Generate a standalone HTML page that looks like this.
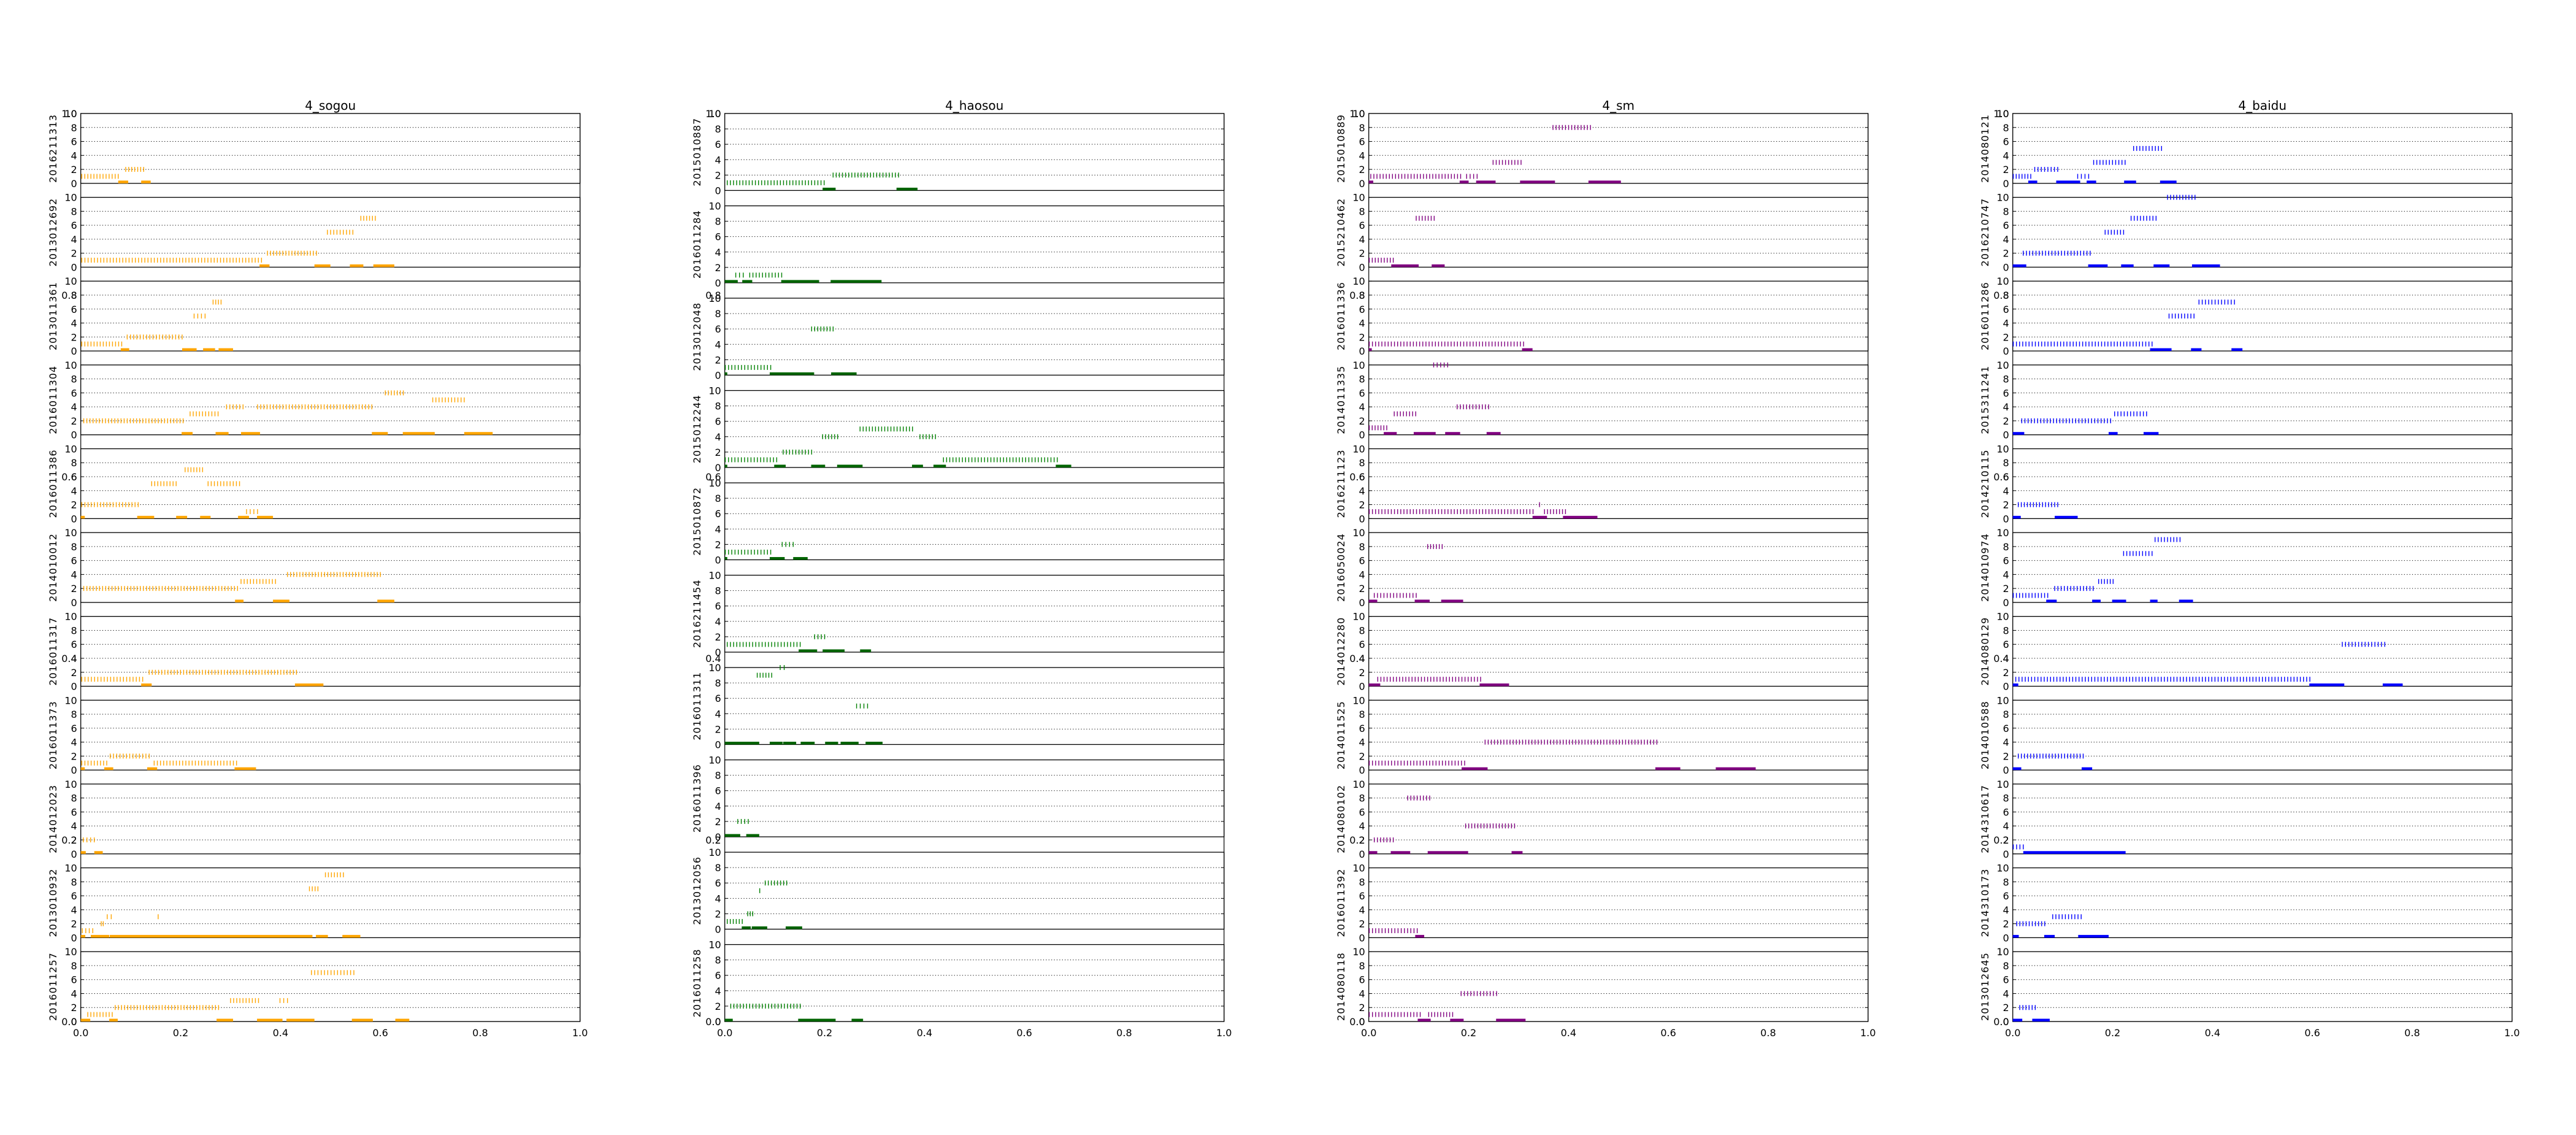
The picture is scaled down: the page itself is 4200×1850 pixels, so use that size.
<!DOCTYPE html>
<html><head><meta charset="utf-8">
<style>
html,body{margin:0;padding:0;background:#fff;}
svg{display:block;font-family:"DejaVu Sans","Liberation Sans",sans-serif;}
</style></head>
<body>
<svg id="chart" xmlns="http://www.w3.org/2000/svg" width="4200" height="1850" viewBox="0 0 4200 1850"></svg>
<script>
// ---------- data ----------
const columnTitles = ["4_sogou", "4_haosou", "4_sm", "4_baidu"];
const columnColors = ["#FFA500", "#008000", "#800080", "#0000FF"];
const columnBarColors = ["#FFA500", "#006400", "#800080", "#0000FF"];
const xTickLabels = ["0.0", "0.2", "0.4", "0.6", "0.8", "1.0"];
const xTickValues = [0, 0.2, 0.4, 0.6, 0.8, 1.0];
const subYTicks = [0, 2, 4, 6, 8, 10];
const bgYTicks = ["0.0", "0.2", "0.4", "0.6", "0.8", "1.0"];

const sogouLabels = ["2016211313","2013012692","2013011361","2016011304","2016011386","2014010012","2016011317","2016011373","2014012023","2013010932","2016011257"];
const sogouTicks = [
 [[1,.002,.075],[2,.09,.126]],
 [[1,.002,.362],[2,.374,.472],[5,.494,.545],[7,.561,.590]],
 [[1,.002,.082],[2,.093,.203],[5,.227,.249],[7,.265,.281]],
 [[2,.006,.205],[3,.219,.275],[4,.292,.325],[4,.354,.583],[6,.61,.646],[5,.705,.768]],
 [[2,.002,.115],[5,.142,.191],[7,.209,.244],[5,.255,.318],[1,.332,.354]],
 [[2,.006,.314],[3,.321,.39],[4,.414,.6]],
 [[1,.002,.124],[2,.137,.432]],
 [[1,.002,.052],[2,.059,.137],[1,.147,.312]],
 [[2,.005,.027]],
 [[1,.003,.024],[2,.041,.045],[3,.053,.061],[3,.155,.155],[7,.458,.475],[9,.49,.526]],
 [[1,.014,.063],[2,.069,.276],[3,.3,.356],[3,.399,.414],[7,.462,.547]]
];
const sogouBars = [
 [[.075,.095],[.121,.14]],
 [[.358,.378],[.468,.5],[.539,.566],[.586,.628]],
 [[.08,.097],[.203,.232],[.245,.269],[.276,.305]],
 [[.202,.224],[.27,.296],[.321,.359],[.583,.615],[.645,.709],[.768,.825]],
 [[0,.008],[.113,.147],[.191,.213],[.239,.26],[.315,.337],[.353,.385]],
 [[.309,.326],[.385,.418],[.594,.628]],
 [[.121,.142],[.429,.486]],
 [[0,.008],[.047,.065],[.133,.153],[.308,.351]],
 [[0,.01],[.027,.044]],
 [[0,.009],[.02,.057],[.058,.464],[.471,.495],[.524,.56]],
 [[0,.019],[.057,.074],[.272,.305],[.353,.404],[.412,.468],[.543,.585],[.63,.658]]
];

const haosouLabels = ["2015010887","2016011284","2013012048","2015012244","2015010872","2016211454","2016011311","2016011396","2013012056","2016011258"];
const haosouTicks = [
 [[1,.005,.199],[2,.217,.348]],
 [[1,.022,.037],[1,.05,.114]],
 [[1,.001,.092],[6,.174,.217]],
 [[1,.001,.104],[2,.117,.174],[4,.196,.226],[5,.271,.376],[4,.391,.422],[1,.438,.666]],
 [[1,.001,.092],[2,.115,.137]],
 [[1,.005,.151],[2,.18,.2]],
 [[9,.065,.094],[10,.111,.119],[5,.264,.286]],
 [[2,.026,.047]],
 [[1,.005,.035],[2,.046,.056],[5,.07,.07],[6,.081,.124]],
 [[2,.012,.151]]
];
const haosouBars = [
 [[.196,.222],[.344,.386]],
 [[0,.026],[.035,.055],[.113,.189],[.212,.314]],
 [[0,.005],[.09,.179],[.213,.264]],
 [[0,.005],[.099,.122],[.173,.201],[.225,.276],[.375,.397],[.418,.443],[.663,.694]],
 [[0,.005],[.09,.12],[.137,.166]],
 [[.148,.185],[.196,.24],[.271,.293]],
 [[0,.069],[.09,.116],[.117,.143],[.152,.18],[.201,.227],[.232,.268],[.282,.316]],
 [[0,.031],[.043,.069]],
 [[.034,.052],[.054,.085],[.122,.155]],
 [[0,.016],[.147,.222],[.254,.277]]
];

const smLabels = ["2015010889","2015210462","2016011336","2014011335","2016211123","2016050024","2014012280","2014011525","2014080102","2016011392","2014080118"];
const smTicks = [
 [[1,.004,.184],[1,.196,.217],[3,.249,.305],[8,.369,.444]],
 [[1,.001,.049],[7,.095,.131]],
 [[1,.001,.31]],
 [[1,.001,.036],[3,.051,.094],[10,.13,.158],[4,.177,.24]],
 [[1,.001,.329],[2,.342,.342],[1,.352,.394]],
 [[1,.011,.095],[8,.118,.147]],
 [[1,.018,.224]],
 [[1,.001,.192],[4,.233,.577]],
 [[2,.011,.049],[8,.078,.122],[4,.194,.292]],
 [[1,.001,.097]],
 [[1,.001,.103],[1,.12,.168],[4,.185,.256]]
];
const smBars = [
 [[0,.009],[.182,.2],[.215,.254],[.303,.373],[.44,.505]],
 [[.045,.1],[.126,.152]],
 [[0,.006],[.307,.328]],
 [[.03,.056],[.09,.134],[.153,.183],[.236,.264]],
 [[.328,.357],[.389,.458]],
 [[0,.017],[.092,.122],[.145,.189]],
 [[0,.023],[.222,.281]],
 [[.186,.238],[.574,.624],[.695,.775]],
 [[0,.017],[.044,.083],[.118,.199],[.286,.308]],
 [[.093,.111]],
 [[.098,.124],[.163,.19],[.255,.314]]
];

const baiduLabels = ["2014080121","2016210747","2016011286","2015311241","2014210115","2014010974","2014080129","2014010588","2014310617","2014310173","2013012645"];
const baiduTicks = [
 [[1,.001,.036],[1,.13,.152],[2,.044,.09],[3,.162,.225],[5,.242,.298]],
 [[2,.021,.155],[5,.185,.222],[7,.237,.287],[10,.31,.365]],
 [[1,.001,.279],[5,.313,.363],[7,.373,.444]],
 [[2,.018,.196],[3,.204,.268]],
 [[2,.011,.09]],
 [[1,.001,.07],[2,.084,.161],[3,.172,.201],[7,.222,.279],[9,.285,.335]],
 [[1,.006,.595],[6,.66,.745]],
 [[2,.011,.141]],
 [[1,.001,.021]],
 [[2,.008,.064],[3,.08,.137]],
 [[2,.014,.045]]
];
const baiduBars = [
 [[.031,.049],[.087,.135],[.148,.167],[.223,.247],[.295,.328]],
 [[0,.027],[.151,.19],[.217,.242],[.282,.314],[.359,.415]],
 [[.275,.318],[.357,.378],[.438,.46]],
 [[0,.023],[.192,.21],[.262,.292]],
 [[0,.016],[.084,.13]],
 [[.067,.088],[.159,.176],[.199,.227],[.275,.29],[.333,.361]],
 [[0,.011],[.594,.664],[.741,.781]],
 [[0,.017],[.138,.159]],
 [[.021,.226]],
 [[0,.012],[.063,.084],[.131,.192]],
 [[0,.019],[.039,.074]]
];

const allLabels = [sogouLabels, haosouLabels, smLabels, baiduLabels];
const allTicks = [sogouTicks, haosouTicks, smTicks, baiduTicks];
const allBars = [sogouBars, haosouBars, smBars, baiduBars];

// ---------- layout ----------
const NS = "http://www.w3.org/2000/svg";
const svg = document.getElementById("chart");
const colLeft = [131.7, 1181.7, 2231.7, 3281.7];
const colW = 814;
const TOP = 185, BOTTOM = 1665;
const STEP = 0.0063;

function mk(tag, attrs, parent) {
  const e = document.createElementNS(NS, tag);
  for (const k in attrs) e.setAttribute(k, attrs[k]);
  (parent || svg).appendChild(e);
  return e;
}

for (let c = 0; c < 4; c++) {
  const L = colLeft[c];
  const xs = v => L + v * colW;
  const g = mk("g", {});
  
  

  const bg = mk("rect", {x: L, y: TOP, width: colW, height: BOTTOM - TOP, fill: "#fff", stroke: "#000", "stroke-width": 1.2}, g);
  
  

  const t = mk("text", {x: L + colW / 2, y: 179, "text-anchor": "middle", "font-size": 20, fill: "#000"}, g);
  t.textContent = columnTitles[c];
  
  

  for (let i = 0; i < bgYTicks.length; i++) {
    const yy = BOTTOM - (i / 5) * (BOTTOM - TOP);
    const lt = mk("text", {x: L - 6, y: yy + 6, "text-anchor": "end", "font-size": 16, fill: "#000"}, g);
    lt.textContent = bgYTicks[i];
    
    
  }
  for (let i = 0; i < xTickValues.length; i++) {
    const xx = xs(xTickValues[i]);
    mk("line", {x1: xx, x2: xx, y1: BOTTOM, y2: BOTTOM - 5, stroke: "#000", "stroke-width": 1}, g);
    const xt = mk("text", {x: xx, y: 1689, "text-anchor": "middle", "font-size": 16, fill: "#000"}, g);
    xt.textContent = xTickLabels[i];
    
    
  }

  const labels = allLabels[c], ticks = allTicks[c], bars = allBars[c];
  const n = labels.length;
  const H = (BOTTOM - TOP) / (n + (n - 1) * 0.2);
  const gap = H * 0.2;
  for (let s = 0; s < n; s++) {
    const top = TOP + s * (H + gap);
    const bot = top + H;
    const ys = v => bot - v / 10 * H;
    const sg = mk("g", {}, g);
    
    
    mk("rect", {x: L, y: top, width: colW, height: H, fill: "#fff", stroke: "none"}, sg);
    for (const v of subYTicks) {
      const yy = ys(v);
      if (v > 0 && v < 10) {
        const gl = mk("line", {x1: L, x2: L + colW, y1: yy, y2: yy, stroke: "#000", "stroke-width": 1, "stroke-dasharray": "1.2,3.2"}, sg);
        
        
      }
      mk("line", {x1: L, x2: L + 5, y1: yy, y2: yy, stroke: "#000", "stroke-width": 1}, sg);
      mk("line", {x1: L + colW - 5, x2: L + colW, y1: yy, y2: yy, stroke: "#000", "stroke-width": 1}, sg);
      const yl = mk("text", {x: L - 6, y: yy + 6, "text-anchor": "end", "font-size": 16, fill: "#000"}, sg);
      yl.textContent = String(v);
      
      
    }
    mk("rect", {x: L, y: top, width: colW, height: H, fill: "none", stroke: "#000", "stroke-width": 1.3}, sg);
    const cy = (top + bot) / 2;
    const lab = mk("text", {x: L - 44, y: cy, "text-anchor": "middle", "font-size": 16, "letter-spacing": "1", fill: "#000", transform: "rotate(-90 " + (L - 44) + " " + cy + ")", "dominant-baseline": "middle"}, sg);
    lab.textContent = labels[s];
    
    
    for (const b of bars[s]) {
      const r = mk("rect", {x: xs(b[0]), y: bot - 4.5, width: Math.max(2, xs(b[1]) - xs(b[0])), height: 4.5, fill: columnBarColors[c]}, sg);
      
      
    }
    for (const seg of ticks[s]) {
      const lvl = seg[0], x0 = seg[1], x1 = seg[2];
      const cnt = Math.round((x1 - x0) / STEP) + 1;
      const yy = ys(lvl);
      for (let k = 0; k < cnt; k++) {
        const xv = cnt > 1 ? x0 + (x1 - x0) * k / (cnt - 1) : x0;
        const m = mk("line", {x1: xs(xv), x2: xs(xv), y1: yy - 4, y2: yy + 4, stroke: columnColors[c], "stroke-width": 1.4}, sg);
        
        
      }
    }
  }
}
</script>
</body></html>
